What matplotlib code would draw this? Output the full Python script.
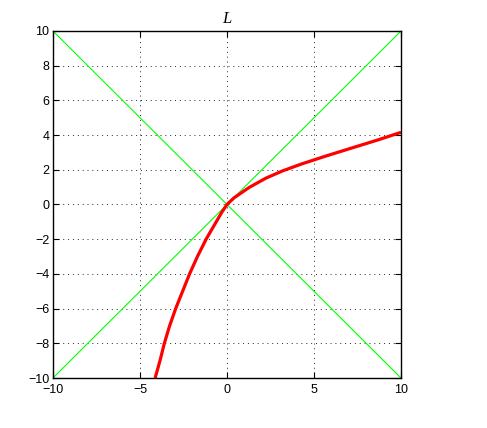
import numpy as np
import matplotlib
matplotlib.use('Agg')
import matplotlib.pyplot as plt

# red curve, values
curve_x = [-4.13, -3.85, -3.6, -3.3, -2.95, -2.55, -2.15, -1.7, -1.2, -0.62, -0.3,
           0.0, 0.4, 1.27, 2.24, 3.2, 4.27, 5.61, 7.15, 8.7, 10.0]
curve_y = [-10.0, -9.0, -8.0, -7.0, -6.0, -5.0, -4.0, -3.0, -2.0, -1.0, -0.45,
           0.0, 0.38, 0.98, 1.52, 1.94, 2.33, 2.77, 3.25, 3.73, 4.16]

# green diagonals
diag_x = [-10, 10]
up_y = [-10, 10]
down_y = [10, -10]

yticks = [-10, -8, -6, -4, -2, 0, 2, 4, 6, 8, 10]
xticks = [-10, -5, 0, 5, 10]

plt.rcParams['font.family'] = ['Liberation Sans', 'DejaVu Sans']
plt.rcParams['axes.unicode_minus'] = True

fig = plt.figure(figsize=(4.87, 4.28), dpi=100)
ax = fig.add_axes([0.1088, 0.1168, 0.7146, 0.8108])

ax.plot(diag_x, up_y, color=(0, 1, 0), lw=0.8)
ax.plot(diag_x, down_y, color=(0, 1, 0), lw=0.8)
ax.plot(curve_x, curve_y, color='red', lw=2.3, solid_capstyle='butt',
        solid_joinstyle='round')

ax.set_xlim(-10, 10)
ax.set_ylim(-10, 10)
ax.set_xticks(xticks)
ax.set_yticks(yticks)
ax.grid(True, color='0.15', linestyle=(0, (1, 4)), lw=0.7)
ax.tick_params(direction='in', top=True, right=True, labelsize=9, length=4)
ax.tick_params(axis='x', pad=4.5)
ax.tick_params(axis='y', pad=2.5)
for s in ax.spines.values():
    s.set_linewidth(1.0)

ax.set_title('L', fontsize=12, family='Liberation Serif', style='italic', pad=6)

fig.savefig('out.png', dpi=100)
